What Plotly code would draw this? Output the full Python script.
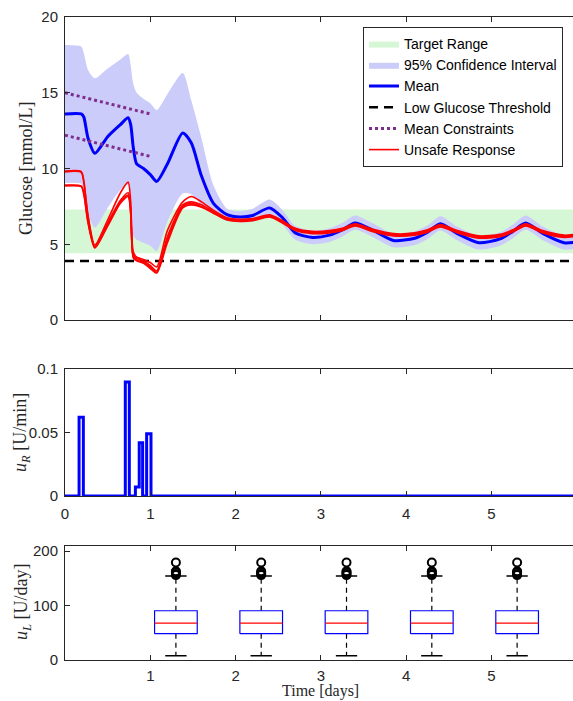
import plotly.graph_objects as go

W, H = 573, 701

# ---------------- data ----------------
t = [0, 0.19, 0.22, 0.27, 0.35, 0.5, 0.65, 0.74, 0.77, 0.8, 0.84, 0.92, 1.0, 1.075,
     1.2, 1.38, 1.48, 1.6, 1.74, 1.9, 2.05, 2.2, 2.4, 2.55, 2.7, 2.9, 3.1, 3.25, 3.4,
     3.6, 3.85, 4.1, 4.25, 4.4, 4.6, 4.85, 5.1, 5.25, 5.4, 5.6, 5.85, 5.96]

mean = [13.6, 13.6, 13.4, 12.0, 11.0, 12.1, 12.9, 13.35, 12.9, 11.4, 10.3, 10.0, 9.6, 9.15,
        10.3, 12.35, 11.7, 9.5, 7.7, 6.95, 6.8, 6.9, 7.4, 6.75, 5.75, 5.45, 5.6, 5.95, 6.4,
        5.95, 5.25, 5.4, 5.8, 6.35, 5.7, 5.1, 5.35, 5.85, 6.4, 5.72, 5.1, 5.12]

ci_upper = [18.15, 18.05, 17.6, 16.5, 15.95, 16.6, 17.2, 17.55, 16.8, 15.6, 15.0, 14.6, 14.3, 13.85,
            14.9, 16.3, 14.5, 12.0, 8.9, 7.35, 7.2, 7.35, 7.95, 7.25, 6.2, 5.9, 6.05, 6.4, 6.9,
            6.4, 5.7, 5.85, 6.25, 6.85, 6.15, 5.55, 5.8, 6.3, 6.9, 6.17, 5.55, 5.57]

ci_lower = [9.05, 9.0, 8.6, 7.0, 6.1, 7.4, 8.6, 8.95, 7.5, 5.6, 5.3, 5.1, 4.9, 4.55,
            6.5, 8.35, 8.3, 7.6, 7.15, 6.75, 6.45, 6.5, 6.95, 6.3, 5.3, 5.0, 5.15, 5.5, 5.95,
            5.5, 4.8, 4.95, 5.35, 5.9, 5.25, 4.65, 4.9, 5.4, 5.95, 5.27, 4.65, 4.67]

unsafe_1 = [9.83, 9.8, 9.2, 6.9, 4.95, 6.6, 8.4, 9.1, 7.8, 4.5, 4.15, 4.0, 3.8, 3.5,
            5.9, 7.8, 8.15, 7.8, 7.25, 6.75, 6.65, 6.7, 6.95, 6.55, 6.05, 5.85, 5.9, 6.05, 6.35,
            6.0, 5.7, 5.75, 5.95, 6.3, 5.9, 5.55, 5.65, 5.95, 6.35, 5.9, 5.6, 5.65]
unsafe_2 = [9.78, 9.75, 9.1, 6.8, 4.85, 6.4, 7.9, 8.4, 7.3, 4.3, 4.05, 3.9, 3.6, 3.25,
            5.5, 7.6, 7.8, 7.6, 7.15, 6.7, 6.6, 6.65, 6.9, 6.5, 6.0, 5.8, 5.85, 6.0, 6.3,
            5.95, 5.65, 5.7, 5.9, 6.25, 5.85, 5.5, 5.6, 5.9, 6.3, 5.85, 5.55, 5.6]
unsafe_3 = [8.9, 8.85, 8.4, 6.5, 4.8, 6.3, 7.8, 8.25, 7.1, 4.2, 3.95, 3.8, 3.5, 3.15,
            5.3, 7.5, 7.7, 7.5, 7.1, 6.65, 6.55, 6.6, 6.85, 6.45, 5.95, 5.75, 5.8, 5.95, 6.25,
            5.9, 5.6, 5.65, 5.85, 6.2, 5.8, 5.45, 5.55, 5.85, 6.25, 5.8, 5.5, 5.55]
unsafe_4 = [8.85, 8.8, 8.3, 6.4, 4.75, 6.2, 7.7, 8.15, 7.0, 4.1, 3.9, 3.75, 3.4, 3.1,
            5.1, 7.4, 7.6, 7.45, 7.05, 6.6, 6.5, 6.55, 6.8, 6.4, 5.9, 5.7, 5.75, 5.9, 6.2,
            5.85, 5.55, 5.6, 5.8, 6.15, 5.75, 5.4, 5.5, 5.8, 6.2, 5.75, 5.45, 5.5]

target_low, target_high = 4.4, 7.3
low_threshold = 3.9
constraint_t = [0, 1]
constraint_upper = [15.0, 13.6]
constraint_lower = [12.2, 10.8]

# bolus input u_R (step signal)
uR_t = [0, 0.165, 0.215, 0.707, 0.754, 0.825, 0.87, 0.91, 0.957, 1.008, 6.0]
uR_v = [0, 0.062, 0, 0.0897, 0, 0.0071, 0.042, 0, 0.049, 0, 0]

# basal input u_L box plots
box_pos = [1.3, 2.3, 3.3, 4.3, 5.3]
box_q1 = [48.3, 48.3, 48.3, 48.3, 48.3]
box_med = [67.9, 67.9, 67.9, 67.9, 67.9]
box_q3 = [90.5, 90.5, 90.5, 90.5, 90.5]
box_lo = [8, 8, 8, 8, 8]
box_hi = [154.5, 154.5, 154.5, 154.5, 154.5]
box_outliers = [156, 158, 161, 163, 179]

# ---------------- styling ----------------
AX = '#262626'
SANS = 'Liberation Sans, Arial, sans-serif'
SERIF = 'Liberation Serif, Times New Roman, serif'
XMAX = 5.955
spl = dict(shape='spline', smoothing=0.7)

fig = go.Figure()

# Target range
fig.add_trace(go.Scatter(x=[0, 6, 6, 0, 0], y=[target_low, target_low, target_high, target_high, target_low],
                         fill='toself', fillcolor='rgb(213,247,213)', line=dict(width=0),
                         mode='lines', name='Target Range', xaxis='x', yaxis='y'))
# CI
fig.add_trace(go.Scatter(x=t, y=ci_upper, mode='lines', line=dict(width=0, **spl),
                         showlegend=False, hoverinfo='skip', xaxis='x', yaxis='y'))
fig.add_trace(go.Scatter(x=t, y=ci_lower, mode='lines', line=dict(width=0, **spl),
                         fill='tonexty', fillcolor='rgb(204,204,250)',
                         name='95% Confidence Interval', xaxis='x', yaxis='y'))
# Mean
fig.add_trace(go.Scatter(x=t, y=mean, mode='lines', line=dict(color='rgb(0,0,255)', width=3, **spl),
                         name='Mean', xaxis='x', yaxis='y'))
# Low threshold
fig.add_trace(go.Scatter(x=[0, 6], y=[low_threshold, low_threshold], mode='lines',
                         line=dict(color='black', width=2.5, dash='9px,6px'),
                         name='Low Glucose Threshold', xaxis='x', yaxis='y'))
# Mean constraints
fig.add_trace(go.Scatter(x=constraint_t, y=constraint_upper, mode='lines',
                         line=dict(color='rgb(126,47,142)', width=3, dash='dot'),
                         name='Mean Constraints', legendgroup='mc', xaxis='x', yaxis='y'))
fig.add_trace(go.Scatter(x=constraint_t, y=constraint_lower, mode='lines',
                         line=dict(color='rgb(126,47,142)', width=3, dash='dot'),
                         showlegend=False, legendgroup='mc', xaxis='x', yaxis='y'))
# Unsafe responses
for i, s in enumerate([unsafe_1, unsafe_2, unsafe_3, unsafe_4]):
    fig.add_trace(go.Scatter(x=t, y=s, mode='lines', line=dict(color='rgb(255,0,0)', width=1.6, **spl),
                             name='Unsafe Response', legendgroup='ur', showlegend=(i == 0),
                             xaxis='x', yaxis='y'))

# u_R
fig.add_trace(go.Scatter(x=uR_t, y=uR_v, mode='lines', line=dict(color='rgb(0,0,255)', width=3, shape='hv'),
                         showlegend=False, xaxis='x2', yaxis='y2'))

# Box plots for u_L
bw = 0.5
cw = 0.25
bx, by, mx, my, wx, wy, cx, cy, ox, oy = [], [], [], [], [], [], [], [], [], []
for p, a, m, b, lo, hi in zip(box_pos, box_q1, box_med, box_q3, box_lo, box_hi):
    bx += [p - bw / 2, p + bw / 2, p + bw / 2, p - bw / 2, p - bw / 2, None]
    by += [a, a, b, b, a, None]
    mx += [p - bw / 2, p + bw / 2, None]
    my += [m, m, None]
    wx += [p, p, None, p, p, None]
    wy += [b, hi, None, a, lo, None]
    cx += [p - cw / 2, p + cw / 2, None, p - cw / 2, p + cw / 2, None]
    cy += [hi, hi, None, lo, lo, None]
    for o in box_outliers:
        ox.append(p)
        oy.append(o)

fig.add_trace(go.Scatter(x=wx, y=wy, mode='lines', line=dict(color='black', width=1.2, dash='5px,4px'),
                         showlegend=False, xaxis='x3', yaxis='y3'))
fig.add_trace(go.Scatter(x=cx, y=cy, mode='lines', line=dict(color='black', width=1.5),
                         showlegend=False, xaxis='x3', yaxis='y3'))
fig.add_trace(go.Scatter(x=bx, y=by, mode='lines', line=dict(color='rgb(0,0,255)', width=1.2),
                         showlegend=False, xaxis='x3', yaxis='y3'))
fig.add_trace(go.Scatter(x=mx, y=my, mode='lines', line=dict(color='rgb(255,0,0)', width=1.2),
                         showlegend=False, xaxis='x3', yaxis='y3'))
fig.add_trace(go.Scatter(x=ox, y=oy, mode='markers',
                         marker=dict(symbol='circle-open', size=8, color='black', line=dict(width=2)),
                         showlegend=False, xaxis='x3', yaxis='y3', cliponaxis=False))

xd = [65 / W, 1.0]
def ydom(top_px, bot_px):
    return [1 - bot_px / H, 1 - top_px / H]

common_x = dict(range=[0, XMAX], showgrid=False, zeroline=False, showline=True, linecolor=AX, linewidth=1,
                mirror='ticks', ticks='inside', ticklen=5, tickcolor=AX, tickwidth=1, ticklabelstandoff=2,
                tickfont=dict(family=SANS, size=15, color=AX), domain=xd, fixedrange=True, automargin=False)
common_y = dict(showgrid=False, zeroline=False, showline=True, linecolor=AX, linewidth=1,
                mirror=False, ticks='inside', ticklen=5, tickcolor=AX, tickwidth=1, ticklabelstandoff=3,
                tickfont=dict(family=SANS, size=15, color=AX), fixedrange=True, automargin=False)

fig.update_layout(
    width=W, height=H, margin=dict(l=0, r=0, t=0, b=0, pad=0, autoexpand=False),
    paper_bgcolor='white', plot_bgcolor='white',
    xaxis=dict(common_x, anchor='y', tickvals=[0, 1, 2, 3, 4, 5], showticklabels=False),
    yaxis=dict(common_y, anchor='x', domain=ydom(17, 320), range=[0, 20], tickvals=[0, 5, 10, 15, 20]),
    xaxis2=dict(common_x, anchor='y2', tickvals=[0, 1, 2, 3, 4, 5], ticktext=['0', '1', '2', '3', '4', '5'],
                ticklabelstandoff=4),
    yaxis2=dict(common_y, anchor='x2', domain=ydom(369, 496), range=[0, 0.1], tickvals=[0, 0.05, 0.1],
                ticktext=['0', '0.05', '0.1']),
    xaxis3=dict(common_x, anchor='y3', tickvals=[1, 2, 3, 4, 5]),
    yaxis3=dict(common_y, anchor='x3', domain=ydom(545.7, 660), range=[0, 210], tickvals=[0, 100, 200]),
    legend=dict(x=563 / W, xanchor='right', y=1 - 27 / H, yanchor='top',
                bgcolor='white', bordercolor=AX, borderwidth=1,
                font=dict(family=SANS, size=14, color='black'), tracegroupgap=0),
    showlegend=True,
)

ann = dict(xref='paper', yref='paper', showarrow=False, xanchor='center', yanchor='middle',
           font=dict(family=SERIF, size=18, color=AX))
fig.add_annotation(text='Glucose [mmol/L]', x=26 / W, y=1 - 169 / H, textangle=-90, **ann)
fig.add_annotation(text='<i>u</i><sub><i>R</i></sub> [U/min]', x=21 / W, y=1 - 433 / H, textangle=-90, **ann)
fig.add_annotation(text='<i>u</i><sub><i>L</i></sub> [U/day]', x=22 / W, y=1 - 602 / H, textangle=-90, **ann)
fig.add_annotation(text='Time [days]', x=320 / W, y=0, xref='paper', yref='paper', showarrow=False,
                   xanchor='center', yanchor='bottom', borderpad=0,
                   font=dict(family=SERIF, size=16, color=AX))

fig.write_html('out.html', config={'displayModeBar': False})
